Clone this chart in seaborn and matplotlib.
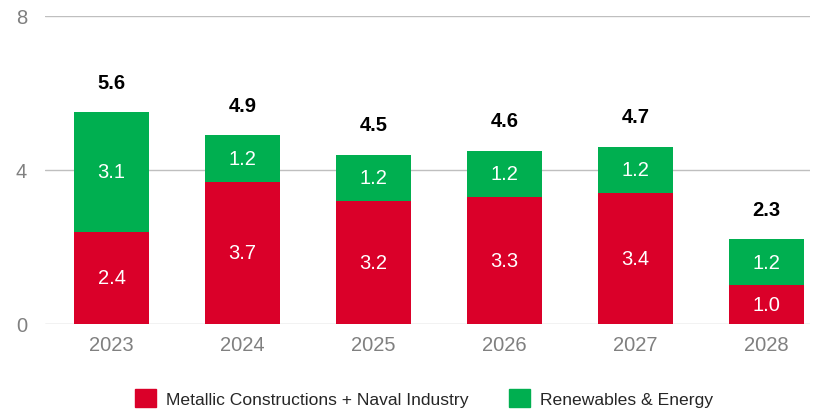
import pandas as pd
import seaborn as sns
from matplotlib import pyplot as plt
from matplotlib.patches import Patch

years = ["2023", "2024", "2025", "2026", "2027", "2028"]
metallic = [2.4, 3.7, 3.2, 3.3, 3.4, 1.0]
renewables = [3.1, 1.2, 1.2, 1.2, 1.2, 1.2]
totals = [5.6, 4.9, 4.5, 4.6, 4.7, 2.3]

red = "#DA0029"
green = "#00AF50"

df = pd.DataFrame({"year": years, "metallic": metallic, "renewables": renewables})
df["stack"] = df["metallic"] + df["renewables"]

sns.set_style("white")
plt.rcParams["font.family"] = ["Liberation Sans", "DejaVu Sans"]

fig = plt.figure(figsize=(8.18, 4.14), dpi=100)
ax = fig.add_axes([0.055, 0.215, 0.935, 0.744])

# stacked: full height in green, red drawn on top
sns.barplot(data=df, x="year", y="stack", color=green, saturation=1, width=0.57,
            linewidth=0, ax=ax)
sns.barplot(data=df, x="year", y="metallic", color=red, saturation=1, width=0.57,
            linewidth=0, ax=ax)

for i, row in df.iterrows():
    ax.text(i, row["metallic"] / 2, f"{row['metallic']:.1f}", ha="center", va="center",
            color="white", fontsize=14.5)
    ax.text(i, row["metallic"] + row["renewables"] / 2, f"{row['renewables']:.1f}",
            ha="center", va="center", color="white", fontsize=14.5)
    ax.text(i, row["stack"] + 0.78, f"{totals[i]:.1f}", ha="center", va="center",
            color="black", fontsize=14.5, fontweight="bold")

ax.set_ylim(0, 8)
ax.set_xlim(-0.508, 5.33)
ax.set_yticks([0, 4, 8])
ax.yaxis.grid(True, color="#BFBFBF", linewidth=1)
ax.set_axisbelow(True)
for s in ax.spines.values():
    s.set_visible(False)
ax.set_xlabel("")
ax.set_ylabel("")
ax.tick_params(axis="y", length=0, pad=13, labelsize=14.5, labelcolor="#808080")
ax.tick_params(axis="x", length=0, pad=8, labelsize=14.5, labelcolor="#808080")

handles = [Patch(color=red, label="Metallic Constructions + Naval Industry"),
           Patch(color=green, label="Renewables & Energy")]
fig.legend(handles=handles, loc="center", bbox_to_anchor=(0.518, 0.036), ncol=2,
           frameon=False, fontsize=12.6, handlelength=1.2, handleheight=1.2,
           columnspacing=2.3, handletextpad=0.57)

plt.savefig("out.png", dpi=100)
